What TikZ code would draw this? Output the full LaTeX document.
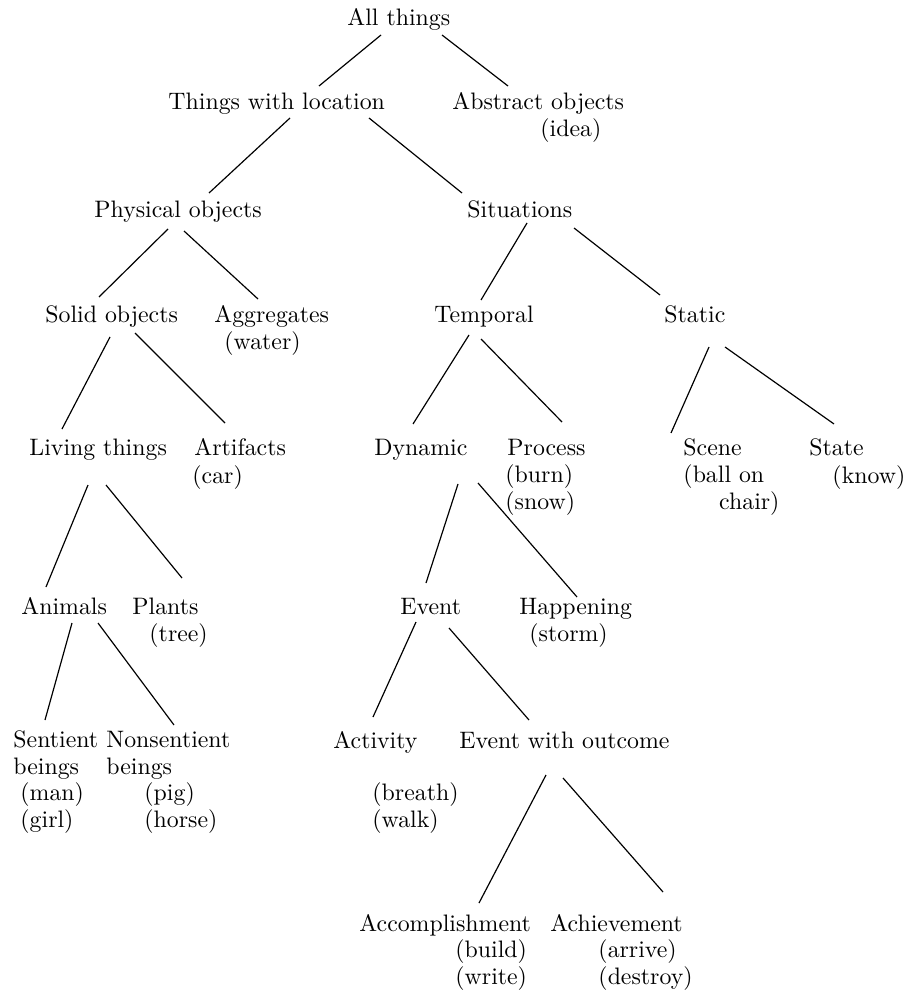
\documentclass[tikz,border=0pt]{standalone}
\usepackage{tikz}
\usetikzlibrary{calc}
\tikzstyle{concept} = [anchor=base west, inner sep=0pt, align=left, font=\fontsize{10pt}{11.1pt}\selectfont]
\tikzstyle{branch} = [line width=0.5pt]

\begin{document}
\begin{tikzpicture}[x=0.42pt, y=-0.42pt]
	\useasboundingbox (0,0) rectangle (903,991);
	%All things
	\node[concept] (all) at (347,26) {All things};
	\node[concept] (things) at (168,110) {Things with location};
	\node[concept] (abstract) at (452,110) {Abstract objects};
	\node[concept] (idea) at (540,137) {(idea)};
	\draw[branch] ($(all.base west)+(34,9)$) -- ($(things.base west)+(151,-24)$);
	\draw[branch] ($(all.base west)+(95,9)$) -- ($(abstract.base west)+(56,-24)$);
	%Things with location
	\node[concept] (physical) at (94,218) {Physical objects};
	\node[concept] (situations) at (467,218) {Situations};
	\draw[branch] ($(things.base west)+(122,8)$) -- ($(physical.base west)+(115,-25)$);
	\draw[branch] ($(things.base west)+(201,8)$) -- ($(situations.base west)+(-5,-25)$);
	%Physical objects
	\node[concept] (solid) at (45,323) {Solid objects};
	\node[concept] (aggregates) at (214,323) {Aggregates};
	\node[concept] (water) at (224,350) {(water)};
	\draw[branch] ($(physical.base west)+(74,11)$) -- ($(solid.base west)+(54,-26)$);
	\draw[branch] ($(physical.base west)+(90,13)$) -- ($(aggregates.base west)+(44,-24)$);
	%Situations
	\node[concept] (temporal) at (434,323) {Temporal};
	\node[concept] (static) at (664,323) {Static};
	\draw[branch] ($(situations.base west)+(60,5)$) -- ($(temporal.base west)+(47,-23)$);
	\draw[branch] ($(situations.base west)+(107,10)$) -- ($(static.base west)+(-4,-28)$);
	%Solid objects
	\node[concept] (living) at (29,455) {Living things};
	\node[concept] (artifacts) at (194,455) {Artifacts};
	\node[concept] (car) at (192,483) {(car)};
	\draw[branch] ($(solid.base west)+(65,14)$) -- ($(living.base west)+(33,-26)$);
	\draw[branch] ($(solid.base west)+(90,10)$) -- ($(artifacts.base west)+(31,-32)$);
	%Temporal
	\node[concept] (dynamic) at (374,455) {Dynamic};
	\node[concept] (process) at (507,455) {Process};
	\node[concept] (burn) at (505,509) {(burn)\\(snow)};
	\draw[branch] ($(temporal.base west)+(35,12)$) -- ($(dynamic.base west)+(39,-31)$);
	\draw[branch] ($(temporal.base west)+(47,16)$) -- ($(process.base west)+(55,-33)$);
	%Static
	\node[concept] (scene) at (683,455) {Scene};
	\node[concept] (ballon) at (683,509) {(ball on\\\hspace*{15pt}chair)};
	\node[concept] (state) at (809,455) {State};
	\node[concept] (know) at (832,483) {(know)};
	\draw[branch] ($(static.base west)+(45,24)$) -- ($(scene.base west)+(-12,-22)$);
	\draw[branch] ($(static.base west)+(61,24)$) -- ($(state.base west)+(25,-31)$);
	%Living things
	\node[concept] (animals) at (21,614) {Animals};
	\node[concept] (plants) at (132,614) {Plants};
	\node[concept] (tree) at (149,641) {(tree)};
	\draw[branch] ($(living.base west)+(59,30)$) -- ($(animals.base west)+(25,-27)$);
	\draw[branch] ($(living.base west)+(77,30)$) -- ($(plants.base west)+(50,-36)$);
	%Dynamic
	\node[concept] (event) at (400,614) {Event};
	\node[concept] (happening) at (519,614) {Happening};
	\node[concept] (storm) at (529,641) {(storm)};
	\draw[branch] ($(dynamic.base west)+(84,29)$) -- ($(event.base west)+(26,-31)$);
	\draw[branch] ($(dynamic.base west)+(104,28)$) -- ($(happening.base west)+(58,-17)$);
	%Animals
	\node[concept] (sentient) at (13,774) {Sentient\\beings};
	\node[concept] (nonsentient) at (106,774) {Nonsentient\\beings};
	\node[concept] (man) at (20,827) {(man)\\(girl)};
	\node[concept] (pig) at (144,827) {(pig)\\(horse)};
	\draw[branch] ($(animals.base west)+(51,9)$) -- ($(sentient.base west)+(32,-54)$);
	\draw[branch] ($(animals.base west)+(77,9)$) -- ($(nonsentient.base west)+(68,-49)$);
	%Event
	\node[concept] (activity) at (333,748) {Activity};
	\node[concept] (outcome) at (459,748) {Event with outcome};
	\node[concept] (breath) at (372,827) {(breath)\\(walk)};
	\draw[branch] ($(event.base west)+(16,8)$) -- ($(activity.base west)+(40,-31)$);
	\draw[branch] ($(event.base west)+(49,14)$) -- ($(outcome.base west)+(70,-28)$);
	%Event with outcome
	\node[concept] (accomplishment) at (359,931) {Accomplishment};
	\node[concept] (achievement) at (550,931) {Achievement};
	\node[concept] (build) at (455,984) {(build)\\(write)};
	\node[concept] (arrive) at (598,984) {(arrive)\\(destroy)};
	\draw[branch] ($(outcome.base west)+(87,27)$) -- ($(accomplishment.base west)+(120,-28)$);
	\draw[branch] ($(outcome.base west)+(104,30)$) -- ($(achievement.base west)+(113,-39)$);

\end{tikzpicture}
\end{document}
